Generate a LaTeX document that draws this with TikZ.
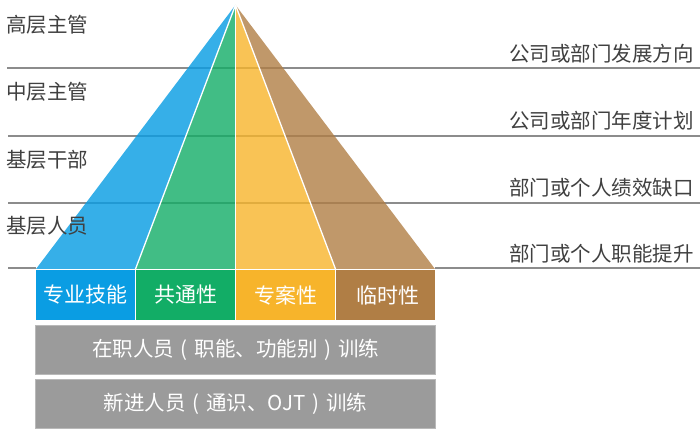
\documentclass[tikz,border=0pt]{standalone}
\usepackage{fontspec}
\setmainfont{Noto Sans CJK SC}
\newcommand{\cparen}[1]{\makebox[1em][c]{#1}}
\begin{document}
\begin{tikzpicture}[x=1pt,y=-1pt,
  hline/.style={draw=lgray,line width=2pt},
  catbox/.style={draw=white,line width=1pt,minimum width=100pt,minimum height=51pt,inner sep=0pt,text=white,font=\fontsize{21}{24}\selectfont},
  graybar/.style={draw=gray!55,fill=bargray,line width=0.8pt,minimum width=400pt,minimum height=49pt,inner sep=0pt,text=white,font=\fontsize{20.5}{24}\selectfont},
  leftlab/.style={anchor=west,text=black!75,inner sep=0pt,font=\fontsize{20.5}{24}\selectfont},
  rightlab/.style={anchor=east,text=black!75,inner sep=0pt,font=\fontsize{20.5}{24}\selectfont}]
\definecolor{cblue}{HTML}{0A9DE3}
\definecolor{cgreen}{HTML}{12AD66}
\definecolor{cyellow}{HTML}{F7B42B}
\definecolor{cbrown}{HTML}{B07E45}
\definecolor{lgray}{HTML}{8C8C8C}
\definecolor{bargray}{HTML}{9B9B9B}
\useasboundingbox (0,0) rectangle (700,430);
% horizontal lines
\coordinate (l1a) at (7,68);   \coordinate (l1b) at (700,68);
\coordinate (l2a) at (8,136);  \coordinate (l2b) at (700,136);
\coordinate (l3a) at (8,203);  \coordinate (l3b) at (700,203);
\coordinate (l4a) at (8,268);  \coordinate (l4b) at (36,268);
\coordinate (l5a) at (435,268);\coordinate (l5b) at (700,268);
\draw[hline] (l1a) -- (l1b);
\draw[hline] (l2a) -- (l2b);
\draw[hline] (l3a) -- (l3b);
\draw[hline] (l4a) -- (l4b);
\draw[hline] (l5a) -- (l5b);
% pyramid
\coordinate (apex) at (235.5,5);
\coordinate (b0) at (36,269);
\coordinate (b1) at (135.5,269);
\coordinate (b2) at (235.5,269);
\coordinate (b3) at (335.5,269);
\coordinate (b4) at (435,269);
\fill[cblue,fill opacity=0.82] (apex) -- (b0) -- (b1) -- cycle;
\fill[cgreen,fill opacity=0.8] (apex) -- (b1) -- (b2) -- cycle;
\fill[cyellow,fill opacity=0.8] (apex) -- (b2) -- (b3) -- cycle;
\fill[cbrown,fill opacity=0.8] (apex) -- (b3) -- (b4) -- cycle;
\draw[white,line width=1.3pt] (apex) -- (b1);
\draw[white,line width=1.3pt] (apex) -- (b2);
\draw[white,line width=1.3pt] (apex) -- (b3);
% category boxes
\node[catbox,fill=cblue] (c1) at (85.75,295) {专业技能};
\node[catbox,fill=cgreen] (c2) at (185.5,295) {共通性};
\node[catbox,fill=cyellow] (c3) at (285.5,295) {专案性};
\node[catbox,fill=cbrown] (c4) at (385.25,295) {\hspace*{6pt}临时性};
% gray bars
\node[graybar] (g1) at (235.5,350) {在职人员\cparen{(}职能、功能别\cparen{)}训练};
\node[graybar] (g2) at (235.5,404) {新进人员\cparen{(}通识、OJT\cparen{)}训练};
% left labels
\node[leftlab] (t1) at (6,25) {高层主管};
\node[leftlab] (t2) at (6,92) {中层主管};
\node[leftlab] (t3) at (6,160) {基层干部};
\node[leftlab] (t4) at (6,226) {基层人员};
% right labels
\node[rightlab] (r1) at (694,54) {公司或部门发展方向};
\node[rightlab] (r2) at (694,121) {公司或部门年度计划};
\node[rightlab] (r3) at (694,188) {部门或个人绩效缺口};
\node[rightlab] (r4) at (694,254) {部门或个人职能提升};
\end{tikzpicture}
\end{document}
